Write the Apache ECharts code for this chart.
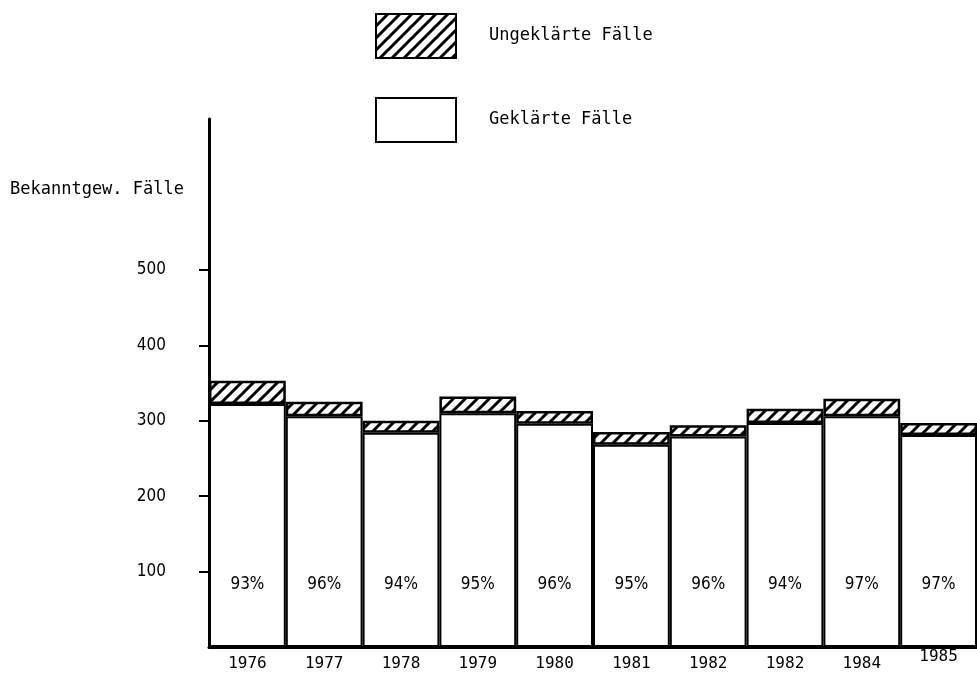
<!DOCTYPE html>
<html>
<head>
<meta charset="utf-8">
<script src="https://cdn.jsdelivr.net/npm/echarts@6/dist/echarts.min.js"></script>
<style>
html,body{margin:0;padding:0;background:#fff;}
#chart{width:977px;height:679px;}
</style>
</head>
<body>
<div id="chart"></div>
<script>
// ---- data ----
var years = ['1976','1977','1978','1979','1980','1981','1982','1982','1984','1985'];
var cleared = [322, 306, 284, 310, 296, 268, 279, 297, 306, 281];
var uncleared = [31, 19, 16, 22, 17, 17, 15, 19, 23, 16];
var percents = ['93%','96%','94%','95%','96%','95%','96%','94%','97%','97%'];
var yTicks = [100, 200, 300, 400, 500];
var yAxisName = 'Bekanntgew. Fälle';
var nameCleared = 'Geklärte Fälle';
var nameUncleared = 'Ungeklärte Fälle';

// hatch pattern
function makeHatch() {
  var s = 12;
  var c = document.createElement('canvas');
  c.width = s; c.height = s;
  var g = c.getContext('2d');
  g.fillStyle = '#fff';
  g.fillRect(0, 0, s, s);
  g.strokeStyle = '#000';
  g.lineWidth = 3;
  g.beginPath();
  g.moveTo(0, s); g.lineTo(s, 0);
  g.moveTo(-s/2, s/2); g.lineTo(s/2, -s/2);
  g.moveTo(s/2, s*1.5); g.lineTo(s*1.5, s/2);
  g.stroke();
  return c;
}

var narrow = "'Liberation Sans Narrow','DejaVu Sans Condensed',sans-serif";
var mono = "'DejaVu Sans Mono',monospace";

var xData = years.map(function (y, i) {
  return i === years.length - 1 ? {value: y, textStyle: {lineHeight: 2}} : y;
});

var chart = echarts.init(document.getElementById('chart'), null, {renderer: 'canvas'});
chart.setOption({
  backgroundColor: '#ffffff',
  animation: false,
  graphic: [{
    type: 'text',
    left: 10, top: 181,
    style: {text: yAxisName, font: '17px ' + mono, fill: '#000'}
  }],
  legend: {
    orient: 'vertical',
    left: 375, top: 13,
    padding: 0,
    itemWidth: 80, itemHeight: 44,
    itemGap: 38,
    icon: 'rect',
    data: [nameUncleared, nameCleared],
    textStyle: {fontFamily: mono, fontSize: 17, color: '#000', padding: [0, 0, 0, 28]}
  },
  grid: {left: 209, width: 773, top: 119, bottom: 32, containLabel: false},
  xAxis: {
    type: 'category',
    data: xData,
    boundaryGap: true,
    axisLine: {lineStyle: {color: '#000', width: 3}},
    axisTick: {show: false},
    axisLabel: {color: '#000', fontFamily: mono, fontSize: 16, margin: 9, interval: 0}
  },
  yAxis: {
    type: 'value',
    min: 0, max: 700, interval: 100,
    splitLine: {show: false},
    axisLine: {show: true, lineStyle: {color: '#000', width: 3}},
    axisTick: {show: true, length: 10, lineStyle: {color: '#000', width: 2}, customValues: yTicks},
    axisLabel: {color: '#000', fontFamily: narrow, fontSize: 17, margin: 43, customValues: yTicks}
  },
  series: [{
    name: nameCleared,
    type: 'bar',
    stack: 'total',
    data: cleared,
    barCategoryGap: '0%',
    itemStyle: {color: '#fff', borderColor: '#000', borderWidth: 2},
    label: {
      show: true,
      position: 'insideBottom',
      distance: 54,
      color: '#000',
      fontFamily: narrow,
      fontSize: 17,
      formatter: function (p) { return percents[p.dataIndex]; }
    }
  }, {
    name: nameUncleared,
    type: 'bar',
    stack: 'total',
    data: uncleared,
    barCategoryGap: '0%',
    itemStyle: {color: {image: makeHatch(), repeat: 'repeat'}, borderColor: '#000', borderWidth: 2.5}
  }]
});
</script>
</body>
</html>
